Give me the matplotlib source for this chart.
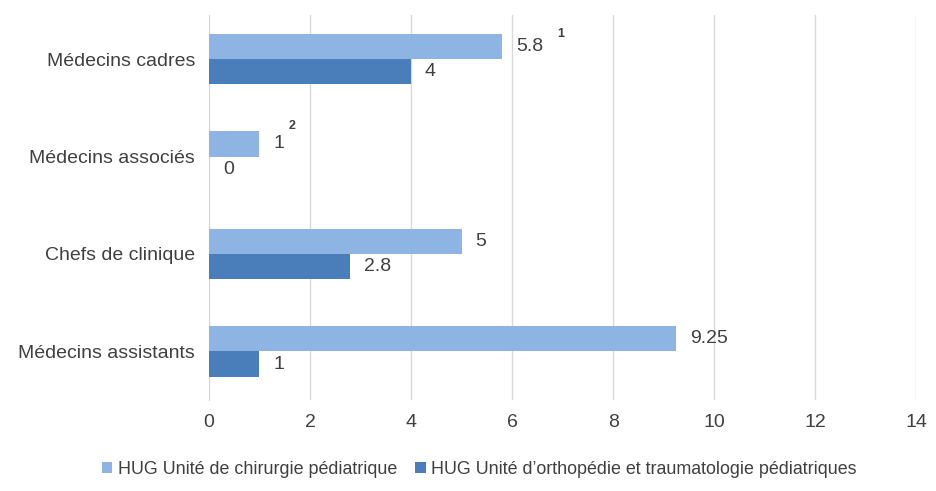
import numpy as np
import matplotlib.pyplot as plt

plt.rcParams['font.family'] = ['Liberation Sans Narrow', 'Liberation Sans', 'DejaVu Sans']

categories = ['Médecins assistants', 'Chefs de clinique', 'Médecins associés', 'Médecins cadres']
chirurgie = [9.25, 5, 1, 5.8]
orthopedie = [1, 2.8, 0, 4]
chirurgie_labels = ['9.25', '5', '1', '5.8']
orthopedie_labels = ['1', '2.8', '0', '4']
notes = {3: '1', 2: '2'}
series_names = ['HUG Unité de chirurgie pédiatrique',
                'HUG Unité d\u2019orthopédie et traumatologie pédiatriques']
xticks = [0, 2, 4, 6, 8, 10, 12, 14]

light = '#8EB4E3'
dark = '#4A7EBB'
text_col = '#404040'
note_offsets = {3: (40, 9), 2: (21, 13)}

fig = plt.figure(figsize=(9.37, 4.91), dpi=100)
ax = fig.add_axes([0.223, 0.185, 0.755, 0.784])

y = np.arange(len(categories))
h = 0.26
ax.barh(y + h / 2, chirurgie, height=h, color=light, label=series_names[0], zorder=3)
ax.barh(y - h / 2, orthopedie, height=h, color=dark, label=series_names[1], zorder=3)

for i in range(len(categories)):
    ax.annotate(chirurgie_labels[i], (chirurgie[i], y[i] + h / 2), xytext=(10, 0),
                textcoords='offset points', va='center', ha='left', fontsize=14, color=text_col)
    ax.annotate(orthopedie_labels[i], (orthopedie[i], y[i] - h / 2), xytext=(10, 0),
                textcoords='offset points', va='center', ha='left', fontsize=14, color=text_col)
    if i in notes:
        ax.annotate(notes[i], (chirurgie[i], y[i] + h / 2), xytext=note_offsets[i],
                    textcoords='offset points', va='center', ha='left', fontsize=9,
                    color=text_col, fontweight='bold')

ax.set_xlim(0, 14)
ax.set_ylim(-0.5, 3.45)
ax.set_xticks(xticks)
ax.set_yticks(y)
ax.set_yticklabels(categories)
ax.tick_params(axis='x', length=0, labelsize=14, colors=text_col, pad=10)
ax.tick_params(axis='y', length=0, labelsize=14, colors=text_col, pad=10)
ax.grid(axis='x', color='#d9d9d9', linewidth=1, zorder=0)
for s in ['top', 'right', 'bottom']:
    ax.spines[s].set_visible(False)
ax.spines['left'].set_color('#d9d9d9')

ax.legend(loc='upper center', bbox_to_anchor=(0.382, -0.115), ncol=2, frameon=False,
          fontsize=12.9, handlelength=0.6, handleheight=0.6, handletextpad=0.3,
          columnspacing=1.0, labelcolor=text_col)

fig.savefig('out.png', dpi=100)
